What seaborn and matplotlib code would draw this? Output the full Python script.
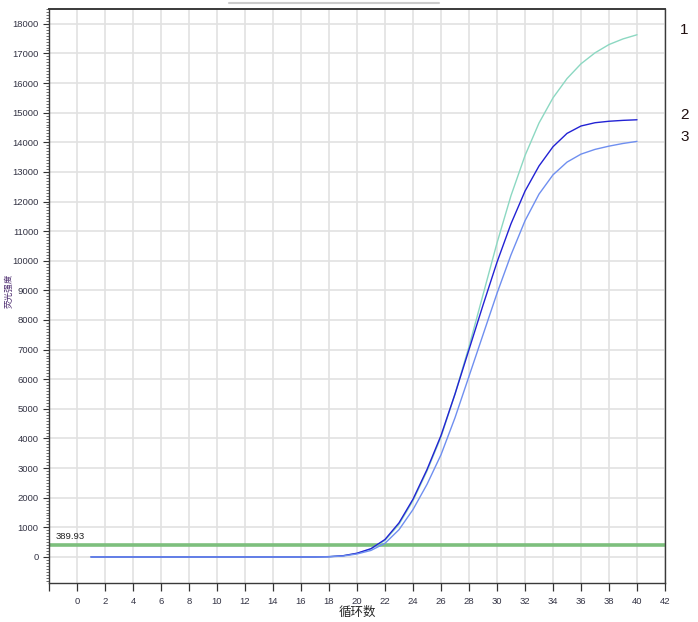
import numpy as np
import pandas as pd
import matplotlib
matplotlib.use("Agg")
import matplotlib.pyplot as plt
from matplotlib.lines import Line2D
from matplotlib.ticker import MultipleLocator
import seaborn as sns

# %% data
cycles = list(range(1, 41))
flat = [0] * 17
curve_1 = flat + [10, 40, 120, 270, 560, 1100, 1900, 2900, 4050, 5500, 7100, 8850,
                  10600, 12200, 13550, 14650, 15500, 16150, 16650, 17020, 17300, 17490, 17630]
curve_2 = flat + [10, 40, 125, 280, 590, 1150, 1950, 2950, 4100, 5500, 7000, 8500,
                  9950, 11250, 12350, 13200, 13850, 14300, 14550, 14660, 14710, 14740, 14760]
curve_3 = flat + [5, 30, 100, 220, 460, 920, 1600, 2450, 3450, 4700, 6100, 7500,
                  8900, 10200, 11350, 12250, 12900, 13330, 13600, 13760, 13870, 13960, 14030]
sample_names = ['1', '2', '3']
threshold = 389.93
x_ticks = list(range(0, 43, 2))
y_ticks = list(range(0, 18001, 1000))

df = pd.DataFrame({
    'cycle': cycles * 3,
    'value': curve_1 + curve_2 + curve_3,
    'sample': [s for s in sample_names for _ in cycles],
})
palette = {'1': '#8cd8c2', '2': '#2222d4', '3': '#6f8ff0'}

# %% plot
sns.set_style('whitegrid', {'grid.color': '#e2e2e2', 'axes.edgecolor': '#3a3a3a'})
plt.rcParams['font.family'] = ['Liberation Sans', 'Noto Sans CJK SC', 'DejaVu Sans']

fig = plt.figure(figsize=(6.98, 6.22), dpi=100)
ax = fig.add_axes([49 / 698, 39 / 622, 616 / 698, 574 / 622])

ax.axhline(threshold, color='#7dbf7d', lw=2.6, zorder=2)
sns.lineplot(data=df, x='cycle', y='value', hue='sample', palette=palette,
             lw=1.0, legend=False, ax=ax, zorder=3)

ax.set_xlim(-2, 42)
ax.set_ylim(-880, 18500)
ax.set_xticks([-2] + x_ticks)
ax.set_xticklabels([''] + [str(t) for t in x_ticks])
ax.set_yticks(y_ticks)
ax.yaxis.set_minor_locator(MultipleLocator(100))
ax.grid(True, which='major', lw=1.2, color='#e2e2e2')
ax.grid(False, which='minor')
ax.tick_params(axis='y', which='major', direction='out', length=4, width=0.8,
               labelsize=6.8, labelcolor='#333344', left=True, color='#333333')
ax.tick_params(axis='y', which='minor', direction='out', length=2, width=0.6,
               left=True, color='#555555')
ax.tick_params(axis='x', direction='out', length=6, width=0.9, labelsize=6.8,
               labelcolor='#333344', bottom=True, color='#333333', pad=4)
for side in ['left', 'right', 'top', 'bottom']:
    ax.spines[side].set_linewidth(1.0)
ax.spines['top'].set_linewidth(1.4)

ax.set_xlabel('循环数', fontsize=9, labelpad=0,
              family=['Noto Sans CJK SC', 'DejaVu Sans'])
ax.set_ylabel('荧光强度', fontsize=6.2, color='#4b2a6e',
              family=['Noto Sans CJK SC', 'DejaVu Sans'])
ax.yaxis.set_label_coords(-0.058, 0.51)

ax.text(-1.5, threshold + 150, '389.93', fontsize=6.8, color='#222222', va='bottom')

# sample labels to the right of the curve ends
for name, vals in zip(sample_names, [curve_1, curve_2, curve_3]):
    ax.text(43.4, vals[-1] + 150, name, fontsize=11, color='#201010',
            va='center', ha='center', clip_on=False)

# faint bar across the top edge
fig.add_artist(Line2D([229 / 698, 439 / 698], [1 - 3 / 622, 1 - 3 / 622],
                      color='#cccccc', lw=1.5))

plt.savefig('out.png', dpi=100)
